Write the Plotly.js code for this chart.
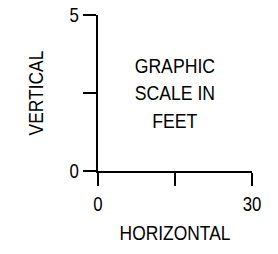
<!DOCTYPE html>
<html>
<head>
<meta charset="utf-8">
<script src="https://cdn.plot.ly/plotly-3.0.1.min.js"></script>
<style>html,body{margin:0;padding:0;background:#fff;}#chart{width:278px;height:254px;}</style>
</head>
<body>
<div id="chart"></div>
<script>
const xTickVals = [0, 15, 30];
const xTickText = ["0", "", "30"];
const yTickVals = [0, 2.5, 5];
const yTickText = ["0", "", "5"];
const xRange = [0, 30];
const yRange = [0, 5];
const scaleLines = ["GRAPHIC", "SCALE IN", "FEET"];
const scaleLabelPos = {x: 15, y: 2.5};
const xTitle = "HORIZONTAL";
const yTitle = "VERTICAL";

const FONT = "Liberation Sans, Arial, sans-serif";

const layout = {
  width: 278, height: 254,
  margin: {l: 98, r: 26, t: 15, b: 83},
  paper_bgcolor: "#fff", plot_bgcolor: "#fff",
  showlegend: false,
  font: {family: FONT, size: 20, color: "#000"},
  xaxis: {
    range: xRange, tickmode: "array", tickvals: xTickVals, ticktext: xTickText,
    showgrid: false, zeroline: false, showline: true, linecolor: "#000", linewidth: 2,
    ticks: "outside", ticklen: 13, tickwidth: 2, tickcolor: "#000",
    tickfont: {family: FONT, size: 21, color: "#000"},
    title: {text: xTitle, font: {family: FONT, size: 20, color: "#000"}, standoff: 12},
    fixedrange: true
  },
  yaxis: {
    range: yRange, tickmode: "array", tickvals: yTickVals, ticktext: yTickText,
    showgrid: false, zeroline: false, showline: true, linecolor: "#000", linewidth: 2,
    ticks: "outside", ticklen: 13, tickwidth: 2, tickcolor: "#000",
    tickfont: {family: FONT, size: 21, color: "#000"},
    title: {text: yTitle, font: {family: FONT, size: 20, color: "#000"}, standoff: 18},
    fixedrange: true
  },
  annotations: [{
    x: scaleLabelPos.x, y: scaleLabelPos.y, xref: "x", yref: "y",
    text: scaleLines.join("<br>"), showarrow: false,
    font: {family: FONT, size: 21, color: "#000"}, align: "center"
  }]
};

function condense(sel, f) {
  document.querySelectorAll(sel).forEach(function (t) {
    const lines = t.querySelectorAll("tspan.line");
    const targets = lines.length ? lines : [t];
    targets.forEach(function (el) {
      const len = el.getComputedTextLength();
      if (len > 0) {
        el.setAttribute("textLength", (len * f).toFixed(2));
        el.setAttribute("lengthAdjust", "spacingAndGlyphs");
      }
    });
  });
}

Plotly.newPlot("chart", [{x: [], y: [], type: "scatter", mode: "markers"}], layout, {displayModeBar: false, staticPlot: true})
  .then(function () {
    condense(".xtick text, .ytick text", 0.8);
    condense(".g-xtitle text, .g-ytitle text", 0.87);
    condense(".annotation-text", 0.84);
  });
</script>
</body>
</html>
